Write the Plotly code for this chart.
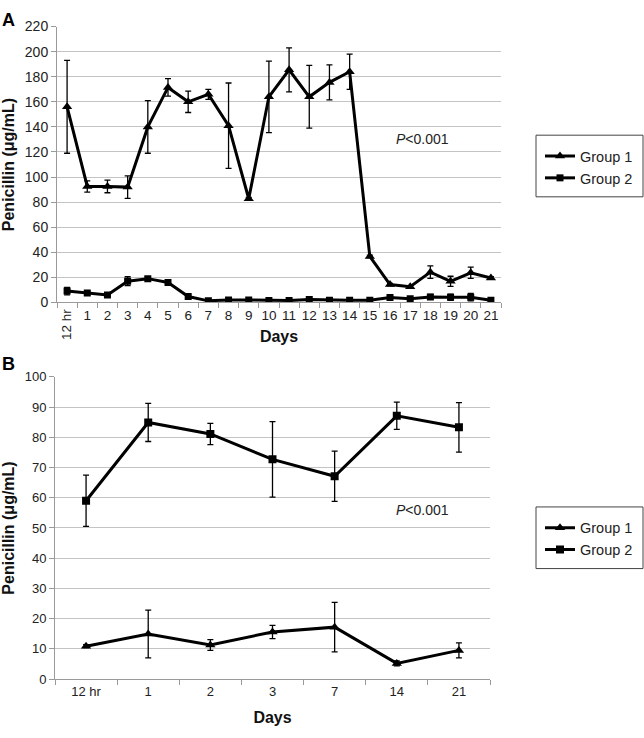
import plotly.graph_objects as go

# ---- panel A data (22 time points) ----
days_a = ['12 hr'] + [str(d) for d in range(1, 22)]
a_g1 = [156, 92.5, 92.5, 92, 140, 171.5, 160, 166, 141, 82.7, 164, 185.5, 164, 175.5, 184, 36.7, 14.3, 12.5, 24.2, 16.9, 23.7, 19.5]
a_g1_err = [37, 4.5, 5, 9, 21, 7, 8.5, 4, 34, 1, 28.5, 17.5, 25, 14, 14, 1, 1, 1, 5, 4, 4.5, 1]
a_g2 = [9.1, 7.5, 6.0, 17, 19, 16, 4.7, 1.3, 2.0, 2.0, 1.5, 1.5, 2.3, 1.8, 1.8, 1.8, 3.9, 2.9, 4.4, 4.2, 4.2, 1.8]
a_g2_err = [3, 1, 1, 3.5, 1.5, 1, 1, 0.5, 0.5, 0.5, 0.5, 0.5, 0.5, 0.5, 0.5, 0.5, 1, 1, 2, 2.5, 3, 0.5]

# ---- panel B data (7 time points) ----
days_b = ['12 hr', '1', '2', '3', '7', '14', '21']
b_g1 = [10.9, 14.9, 11.3, 15.6, 17.2, 5.2, 9.5]
b_g1_err = [0.5, 7.9, 1.8, 2.2, 8.2, 0.8, 2.5]
b_g2 = [59, 84.9, 81.1, 72.7, 67.1, 87.1, 83.3]
b_g2_err = [8.5, 6.3, 3.5, 12.5, 8.3, 4.5, 8.2]

W, H = 644, 738
FONT = 'Arial, Liberation Sans, sans-serif'
GRID = '#c4c4c4'


def px_x(v):
    return v / W


def px_y(v):
    return 1 - v / H


fig = go.Figure()


def add_group(x, y, err, name, symbol, size, xa, ya, legend):
    fig.add_trace(go.Scatter(
        x=x, y=y, name=name, mode='lines+markers',
        line=dict(color='black', width=3),
        marker=dict(symbol=symbol, size=size, color='black'),
        error_y=dict(type='data', array=err, visible=True, color='black', thickness=1.3, width=3),
        xaxis=xa, yaxis=ya, legend=legend,
    ))


add_group(days_a, a_g1, a_g1_err, 'Group 1', 'triangle-up', 9, 'x', 'y', 'legend')
add_group(days_a, a_g2, a_g2_err, 'Group 2', 'square', 7, 'x', 'y', 'legend')
add_group(days_b, b_g1, b_g1_err, 'Group 1', 'triangle-up', 9, 'x2', 'y2', 'legend2')
add_group(days_b, b_g2, b_g2_err, 'Group 2', 'square', 8, 'x2', 'y2', 'legend2')

axis_common = dict(
    showline=True, linecolor='#9a9a9a', linewidth=1,
    ticks='outside', tickcolor='#9a9a9a', ticklen=5,
    tickfont=dict(family=FONT, size=14, color='#222'),
    zeroline=False,
)

# legend frame is drawn as a shape so its size can match the original
legend_common = dict(
    borderwidth=0, bgcolor='rgba(0,0,0,0)',
    font=dict(family=FONT, size=14.5, color='#222'),
    xanchor='left', yanchor='top', itemwidth=30,
)

fig.update_layout(
    width=W, height=H,
    margin=dict(l=0, r=0, t=0, b=0),
    paper_bgcolor='white', plot_bgcolor='white',
    font=dict(family=FONT, color='#222'),
    xaxis=dict(
        axis_common, domain=[px_x(57), px_x(501)], anchor='y',
        type='category', range=[-0.5, 21.5], tickson='boundaries',
        tickmode='array', tickvals=days_a, ticktext=[''] + days_a[1:],
        tickangle=0, tickfont=dict(family=FONT, size=13.5, color='#222'),
        showgrid=False,
        title=dict(text='<b>Days</b>', font=dict(family=FONT, size=16, color='#111'), standoff=9),
    ),
    yaxis=dict(
        axis_common, domain=[px_y(301), px_y(19)], anchor='x',
        range=[0, 220], dtick=20, showgrid=True, gridcolor=GRID, gridwidth=1,
        title=dict(text='<b>Penicillin (μg/mL)</b>', font=dict(family=FONT, size=16, color='#111'), standoff=8),
    ),
    xaxis2=dict(
        axis_common, domain=[px_x(55), px_x(490)], anchor='y2',
        type='category', range=[-0.5, 6.5], tickson='boundaries',
        tickangle=0, tickfont=dict(family=FONT, size=13, color='#222'),
        showgrid=False,
        title=dict(text='<b>Days</b>', font=dict(family=FONT, size=16, color='#111'), standoff=14),
    ),
    yaxis2=dict(
        axis_common, domain=[px_y(686), px_y(377)], anchor='x2',
        range=[0, 100], dtick=10, showgrid=True, gridcolor=GRID, gridwidth=1,
        tickfont=dict(family=FONT, size=13, color='#222'),
        title=dict(text='<b>Penicillin (μg/mL)</b>', font=dict(family=FONT, size=16, color='#111'), standoff=10),
    ),
    legend=dict(legend_common, x=px_x(540), y=px_y(135)),
    legend2=dict(legend_common, x=px_x(540), y=px_y(515)),
)

# legend frames
for top, bottom in [(130, 193), (510, 573)]:
    fig.add_shape(type='rect', xref='paper', yref='paper',
                  x0=px_x(536), x1=px_x(643), y0=px_y(bottom), y1=px_y(top),
                  line=dict(color='#444', width=1), layer='below')

# rotated first category label on panel A
fig.add_annotation(x='12 hr', y=0, xref='x', yref='y', text='12 hr', textangle=-90,
                   showarrow=False, yanchor='top', yshift=-5,
                   font=dict(family=FONT, size=13.5, color='#222'))

# p-values
fig.add_annotation(x=17.6, y=130, xref='x', yref='y', text='<i>P</i>&lt;0.001',
                   showarrow=False, font=dict(family=FONT, size=14, color='#222'))
fig.add_annotation(x=5.42, y=56, xref='x2', yref='y2', text='<i>P</i>&lt;0.001',
                   showarrow=False, font=dict(family=FONT, size=14, color='#222'))

# panel letters
fig.add_annotation(x=0, y=1, xref='paper', yref='paper', text='<b>A</b>', showarrow=False,
                   xanchor='left', yanchor='top', font=dict(family=FONT, size=18, color='black'))
fig.add_annotation(x=0, y=px_y(352), xref='paper', yref='paper', text='<b>B</b>', showarrow=False,
                   xanchor='left', yanchor='top', font=dict(family=FONT, size=18, color='black'))

# drop the default page margin so the 644x738 figure fills the window
fig.write_html('out.html', config={'displayModeBar': False},
               post_script="document.body.style.margin='0';document.body.style.overflow='hidden';")
